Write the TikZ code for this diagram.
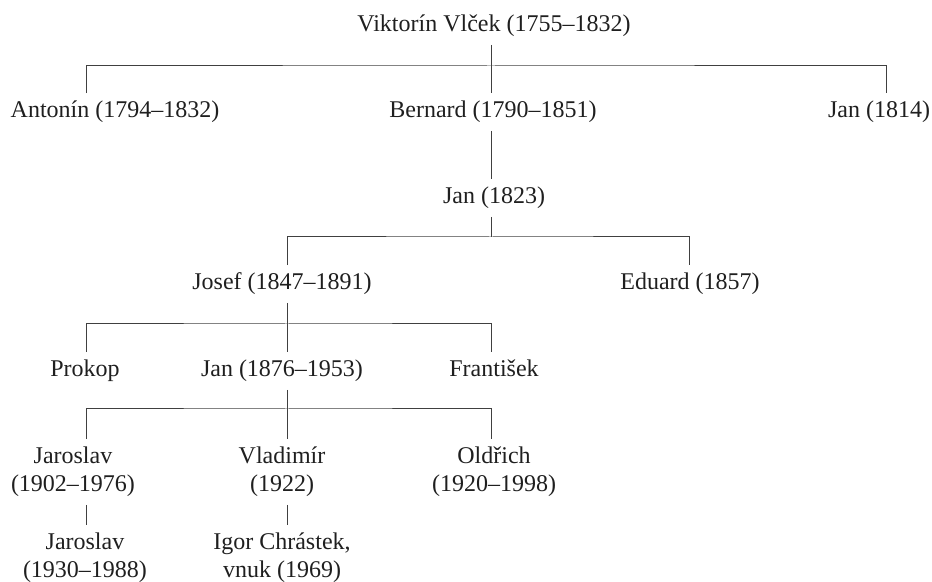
\documentclass[tikz,border=0pt]{standalone}
\usepackage{fontspec}
\setmainfont{Liberation Serif}
\usepackage{tikz}
\usetikzlibrary{calc}

\tikzset{
  person/.style={inner sep=4pt, outer sep=0pt, text=black!88,
    text height=8.3pt, text depth=2.6pt, font=\fontsize{12}{14}\selectfont},
  pair/.style={inner sep=4pt, outer sep=0pt, align=center, text=black!88,
    font=\fontsize{12}{14}\selectfont},
  link/.style={draw=black!75, line width=0.5pt}
}

\begin{document}
\begin{tikzpicture}[x=0.5pt, y=-0.5pt]
    \useasboundingbox (0,0) rectangle (932,582);
    % columns and bars
    \coordinate (c1) at (86,0);
    \coordinate (c2) at (287,0);
    \coordinate (c3) at (491,0);
    \coordinate (c4) at (689,0);
    \coordinate (c5) at (886,0);
    \coordinate (b1) at (491,66);
    \coordinate (b2) at (491,237);
    \coordinate (b3) at (287,324);
    \coordinate (b4) at (287,409);
    % people
    \node[person] (vik) at (494,26) {Viktorín Vlček (1755–1832)};
    \node[person] (ant) at (115,112) {Antonín (1794–1832)};
    \node[person] (bern) at (493,112) {Bernard (1790–1851)};
    \node[person] (jan1) at (879,112) {Jan (1814)};
    \node[person] (jan2) at (494,198) {Jan (1823)};
    \node[person] (josef) at (282,284) {Josef (1847–1891)};
    \node[person] (eduard) at (690,284) {Eduard (1857)};
    \node[person] (prokop) at (85,371) {Prokop};
    \node[person] (jan3) at (282,371) {Jan (1876–1953)};
    \node[person] (frant) at (494,371) {František};
    \node[pair] (jar1) at (73,472) {Jaroslav\\(1902–1976)};
    \node[pair] (vlad) at (282,472) {Vladimír\\(1922)};
    \node[pair] (old) at (494,472) {Oldřich\\(1920–1998)};
    \node[pair] (jar2) at (85,558) {Jaroslav\\(1930–1988)};
    \node[pair] (igor) at (282,558) {Igor Chrástek,\\vnuk (1969)};
    % links
    \draw [link] (vik.south -| c3) -- (bern.north -| c3);
    \draw [link] (ant.north -| c1) |- (b1) -| (jan1.north -| c5);
    \draw [link] (bern.south -| c3) -- (jan2.north -| c3);
    \draw [link] (jan2.south -| c3) -- (b2);
    \draw [link] (josef.north -| c2) |- (b2) -| (eduard.north -| c4);
    \draw [link] (josef.south -| c2) -- (jan3.north -| c2);
    \draw [link] (prokop.north -| c1) |- (b3) -| (frant.north -| c3);
    \draw [link] (jan3.south -| c2) -- (vlad.north -| c2);
    \draw [link] (jar1.north -| c1) |- (b4) -| (old.north -| c3);
    \draw [link] (jar1.south -| c1) -- (jar2.north -| c1);
    \draw [link] (vlad.south -| c2) -- (igor.north -| c2);
\end{tikzpicture}
\end{document}
